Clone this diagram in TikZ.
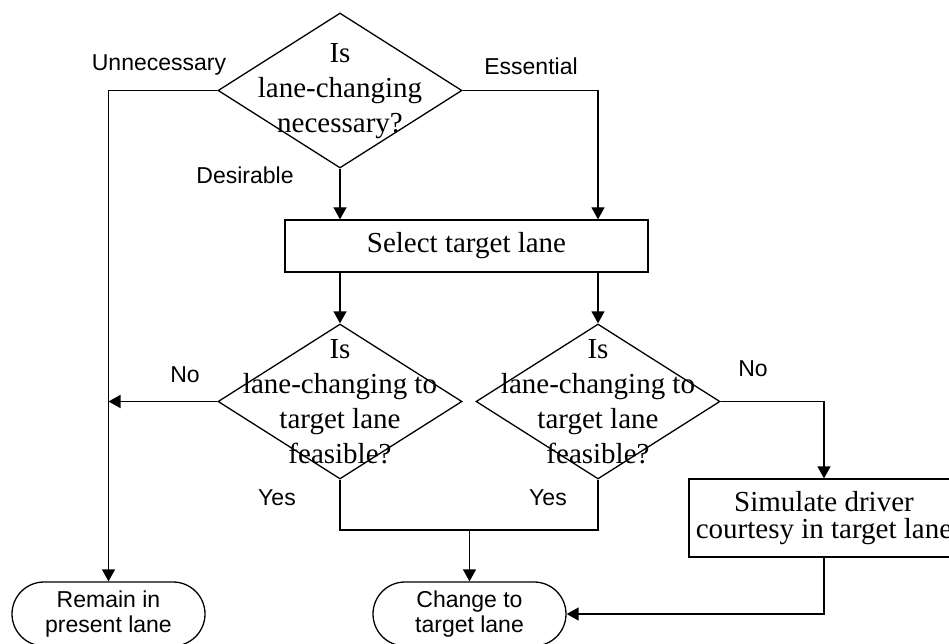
\documentclass[tikz,border=0pt]{standalone}
\usepackage{fontspec}
\setmainfont{Liberation Serif}
\newfontfamily\labelfont{Liberation Sans}
\usetikzlibrary{shapes.geometric,arrows.meta}
\begin{document}
\begin{tikzpicture}[x=1pt,y=-1pt,
  line width=1.3pt,
  decision/.style={shape=diamond,draw,inner sep=0pt,minimum width=244pt,minimum height=155pt},
  qtext/.style={align=center,font=\fontsize{29}{35}\selectfont,inner sep=0pt},
  process/.style={draw,rectangle,inner sep=0pt,align=center,font=\fontsize{29}{27}\selectfont},
  terminal/.style={draw,rectangle,rounded corners=32pt,minimum width=193pt,minimum height=64pt,inner sep=0pt,align=center,font=\labelfont\fontsize{23}{25}\selectfont},
  lbl/.style={font=\labelfont\fontsize{23}{25}\selectfont,inner sep=0pt},
  arr/.style={-{Triangle[length=12pt,width=13pt]}}]
\useasboundingbox (0,0) rectangle (949,644);

% decisions
\node[decision] (d1) at (340,90.5) {};
\node[qtext] (q1) at (340,91) {Is\\lane-changing\\necessary?};
\node[decision] (d2) at (340,401.5) {};
\node[qtext] (q2) at (340,402) {Is\\lane-changing to\\target lane\\feasible?};
\node[decision] (d3) at (598,401.5) {};
\node[qtext] (q3) at (598,402) {Is\\lane-changing to\\target lane\\feasible?};

% process boxes
\node[process,minimum width=363pt,minimum height=52pt] (sel) at (466.5,246) {Select target lane};
\node[process,minimum width=270pt,minimum height=78pt] (sim) at (824,518) {Simulate driver\\courtesy in target lane};

% terminals
\node[terminal] (remain) at (108.5,614) {Remain in\\present lane};
\node[terminal] (change) at (469.5,614) {Change to\\target lane};

% connectors
\draw[arr] (d1.west) -| (remain.north);
\draw[arr] (d1.east) -| (sel.north -| d3.north);
\draw[arr] (d1.south) -- (sel.north -| d1.south);
\draw[arr] (sel.south -| d2.north) -- (d2.north);
\draw[arr] (sel.south -| d3.north) -- (d3.north);
\draw[arr] (d2.west) -- (d2.west -| remain.north);
\draw[arr] (d3.east) -| (sim.north);
\draw[arr] (sim.south) |- (change.east);
\coordinate (j) at (469.5,530);
\draw (d2.south) |- (j) -| (d3.south);
\draw[arr] (j) -- (change.north);

% branch labels
\node[lbl] (lu) at (159,65) {Unnecessary};
\node[lbl] (le) at (531,66) {Essential};
\node[lbl] (ld) at (245,175) {Desirable};
\node[lbl] (ln1) at (185,375) {No};
\node[lbl] (ln2) at (753,369) {No};
\node[lbl] (ly1) at (277,498) {Yes};
\node[lbl] (ly2) at (548,498) {Yes};
\end{tikzpicture}
\end{document}
